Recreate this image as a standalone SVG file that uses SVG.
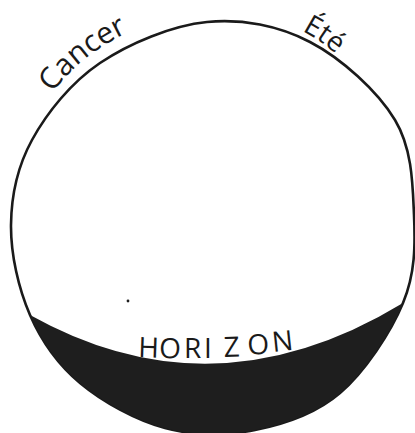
<svg xmlns="http://www.w3.org/2000/svg" width="415" height="433" viewBox="0 0 415 433">
  <style>
    .ink { fill: #1e1e1e; }
    .outline { fill: none; stroke: #1a1a1a; stroke-width: 2.6; }
    .lbl { font-family: "Open Sans", "Liberation Sans", sans-serif; fill: #1a1a1a; }
  </style>
  <defs>
    <path id="cancerPath" d="M 53 93 Q 86 44 168 16"/>
    <path id="etePath" d="M 302 31 Q 326 43 350 67"/>
  </defs>
  <rect x="0" y="0" width="415" height="433" fill="#ffffff"/>
  <g id="globe">
    <path class="outline" d="M 11 225 C 11.3 195.8 17.2 167 32 140 C 46.8 113 70.8 82.7 100 63 C 129.2 43.3 172 25.5 207 22 C 242 18.5 278.7 25.7 310 42 C 341.3 58.3 377.7 91.2 395 120 C 412.3 148.8 412.7 184.5 414 215 C 415.3 245.5 415.3 273.3 403 303 C 390.7 332.7 364.7 371.8 340 393 C 315.3 414.2 284.2 424.2 255 430 C 225.8 435.8 194.2 435.8 165 428 C 135.8 420.2 102.5 401.8 80 383 C 57.5 364.2 41.5 341.3 30 315 C 18.5 288.7 10.7 254.2 11 225 Z"/>
    <circle class="ink" cx="128" cy="301" r="1.4"/>
  </g>
  <g id="horizon">
    <text class="lbl" font-size="28">
      <tspan x="138" y="357" rotate="2">H</tspan><tspan x="159" y="358" rotate="1">O</tspan><tspan x="184" y="358">R</tspan><tspan x="204" y="358">I</tspan><tspan x="224" y="357" rotate="-2">Z</tspan><tspan x="248" y="355" rotate="-4">O</tspan><tspan x="273" y="352" rotate="-6">N</tspan>
    </text>
    <path class="ink" d="M 30 315 Q 214 418 403 303 C 390.7 332.7 364.7 371.8 340 393 C 315.3 414.2 284.2 424.2 255 430 C 225.8 435.8 194.2 435.8 165 428 C 135.8 420.2 102.5 401.8 80 383 C 57.5 364.2 41.5 341.3 30 315 Z"/>
  </g>
  <g id="label-cancer">
    <text class="lbl" font-size="30"><textPath href="#cancerPath">Cancer</textPath></text>
  </g>
  <g id="label-ete">
    <text class="lbl" font-size="28"><textPath href="#etePath">Été</textPath></text>
  </g>
</svg>
